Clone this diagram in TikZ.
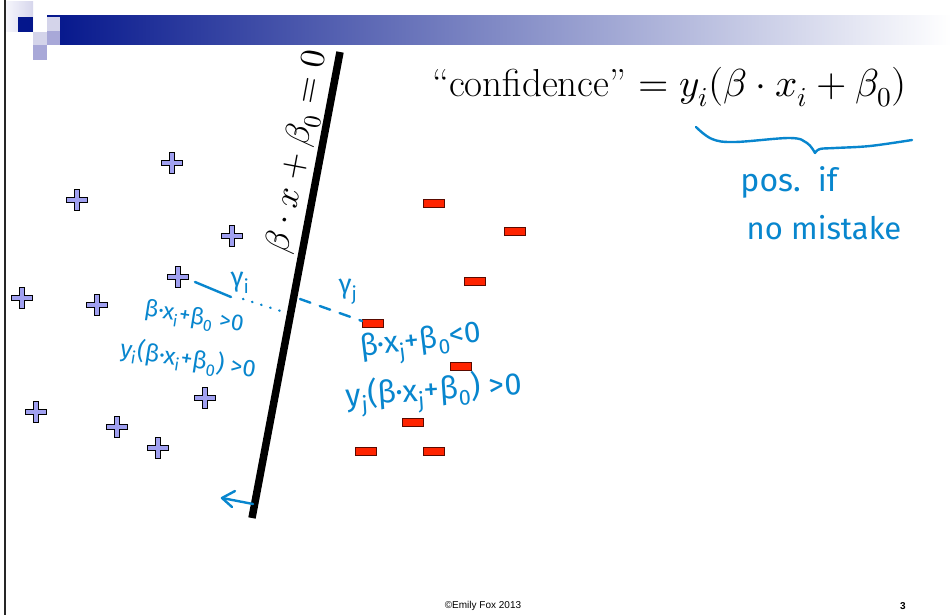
\documentclass[tikz,border=0pt]{standalone}
\usepackage{fontspec}
\usepackage{unicode-math}
\setmathfont{Latin Modern Math}
\newfontfamily\hand{Fira Sans}
\newfontfamily\arial{Liberation Sans}
\definecolor{navy}{RGB}{4,22,140}
\definecolor{lav1}{RGB}{212,212,234}
\definecolor{lav2}{RGB}{168,168,216}
\definecolor{plusfill}{RGB}{160,160,240}
\definecolor{minusfill}{RGB}{255,36,0}
\definecolor{minusedge}{RGB}{90,10,0}
\definecolor{handblue}{RGB}{8,134,206}
\tikzset{
  plusmark/.pic={\draw[fill=plusfill,line width=0.9pt,line join=miter]
    (-10.5,-2.4)--(-2.4,-2.4)--(-2.4,-10.5)--(2.4,-10.5)--(2.4,-2.4)--(10.5,-2.4)--(10.5,2.4)--(2.4,2.4)--(2.4,10.5)--(-2.4,10.5)--(-2.4,2.4)--(-10.5,2.4)--cycle;},
  minusbox/.style={draw=minusedge,fill=minusfill,line width=0.9pt,minimum width=21pt,minimum height=8pt,inner sep=0pt,outer sep=0pt},
  handline/.style={draw=handblue,line width=2.4pt,line cap=round,line join=round},
  handtext/.style={text=handblue,inner sep=0pt,font=\hand},
}
\begin{document}
\begin{tikzpicture}[x=1pt,y=-1pt]
\useasboundingbox (0,0) rectangle (951,615);
\fill[white] (0,0) rectangle (951,615);
% header
\shade[left color=navy,right color=white] (47,16) rectangle (951,45);
\shade[left color={rgb,255:red,246;green,246;blue,252},right color={rgb,255:red,214;green,214;blue,236}] (5.7,2) rectangle (33,32);
\fill[navy] (18,17) rectangle (33,32);
\fill[lav1] (47,16.8) rectangle (60,31);
\fill[lav1] (33,32) rectangle (47,45);
\fill[lav2] (47,31) rectangle (60,45);
\fill[lav2] (33,45) rectangle (47,60);
\draw[line width=1.8pt,black!85] (4.6,0) -- (4.6,615);
% separating line
\coordinate (ltop) at (340,52);
\coordinate (lbot) at (252,518);
\draw[line width=7.5pt] (ltop) -- (lbot);
\node[rotate=79.3,inner sep=0pt] (planeq) at (299,152) {\fontsize{35}{40}\selectfont$\beta\cdot x+\beta_0=0$};
% confidence
\node[anchor=base west,inner sep=0pt] (conf) at (432,97) {\fontsize{39}{44}\selectfont “confidence” $= y_i(\beta\cdot x_i+\beta_0)$};
% plus points
\foreach \p/\q in {172/163,77/200,232/236,178/277,22/298,97/305,205/398,36/412,117/427,158/448}
  \pic at (\p,\q) {plusmark};
% minus points
\node[minusbox] (m1) at (434,203) {};
\node[minusbox] (m2) at (515,231) {};
\node[minusbox] (m3) at (475,281) {};
\node[minusbox] (m4) at (373,323) {};
\node[minusbox] (m5) at (461,366) {};
\node[minusbox] (m6) at (413,422) {};
\node[minusbox] (m7) at (366,451) {};
\node[minusbox] (m8) at (434,451) {};
% brace
\draw[handline] plot[smooth,tension=0.6] coordinates {(696,127) (712,139) (735,142) (790,138) (807,143) (815,153)};
\draw[handline] plot[smooth,tension=0.6] coordinates {(815,153) (820,149) (835,148) (870,146) (912,140)};
\node[handtext,anchor=base] (pos) at (789,192) {\fontsize{32}{34}\selectfont pos.\ \ if};
\node[handtext,anchor=base] (nomis) at (824,240) {\fontsize{31}{34}\selectfont no mistake};
% margins
\coordinate (gi0) at (195,282);
\coordinate (gi1) at (231,297);
\coordinate (gi2) at (243,299);
\coordinate (gi3) at (287,313);
\draw[handline] (gi0) -- (gi1);
\draw[handline,dash pattern=on 0.5pt off 9pt] (gi2) -- (gi3);
\coordinate (gj0) at (300,299);
\coordinate (gj1) at (362,321);
\draw[handline,dash pattern=on 11pt off 10pt] (gj0) -- (gj1);
\node[handtext] (gi) at (240,283) {\fontsize{27}{28}\selectfont γ\textsubscript{i}};
\node[handtext] (gj) at (348,292) {\fontsize{27}{28}\selectfont γ\textsubscript{j}};
\node[handtext,rotate=-9] (t1) at (194,318) {\fontsize{23}{28}\selectfont β·x\textsubscript{i}+β\textsubscript{0} >0};
\node[handtext,rotate=-9] (t2) at (188,360) {\fontsize{24}{28}\selectfont y\textsubscript{i}(β·x\textsubscript{i}+β\textsubscript{0}) >0};
\node[handtext,rotate=7] (t3) at (421,344) {\fontsize{30}{32}\selectfont β·x\textsubscript{j}+β\textsubscript{0}<0};
\node[handtext,rotate=4] (t4) at (434,393) {\fontsize{31}{32}\selectfont y\textsubscript{j}(β·x\textsubscript{j}+β\textsubscript{0}) >0};
% arrow near the line
\coordinate (a0) at (253,504);
\coordinate (a1) at (222,498);
\coordinate (a2) at (235,491);
\coordinate (a3) at (232,507);
\draw[handline] (a0) -- (a1);
\draw[handline] (a2) -- (a1) -- (a3);
% footer
\node[font=\arial,inner sep=0pt] (foot) at (483,606) {\fontsize{10}{12}\selectfont ©Emily Fox 2013};
\node[font=\arial\bfseries,inner sep=0pt] (pnum) at (903,606) {\fontsize{10}{12}\selectfont 3};
\end{tikzpicture}
\end{document}
